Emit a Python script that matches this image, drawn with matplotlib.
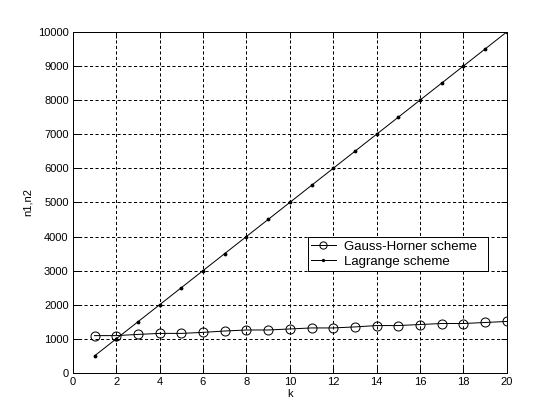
import matplotlib
matplotlib.use("Agg")
import matplotlib.pyplot as plt
import numpy as np

k = np.arange(1, 21)
gauss_horner = [1095, 1095, 1130, 1160, 1160, 1190, 1230, 1260, 1260, 1290,
                1320, 1320, 1350, 1390, 1390, 1420, 1450, 1450, 1480, 1510]
lagrange = [500, 1000, 1500, 2000, 2500, 3000, 3500, 4000, 4500, 5000,
            5500, 6000, 6500, 7000, 7500, 8000, 8500, 9000, 9500, 10000]

plt.rcParams["font.family"] = ["Liberation Sans", "DejaVu Sans"]
plt.rcParams["font.size"] = 8

fig = plt.figure(figsize=(5.6, 4.2), dpi=100)
ax = fig.add_axes([0.13, 0.112, 0.775, 0.812])

ax.plot(k, gauss_horner, color="k", lw=0.72, marker="o", ms=6.5,
        mfc="none", mec="k", mew=0.72, label="Gauss-Horner scheme")
ax.plot(k, lagrange, color="k", lw=0.72, marker=".", ms=3.5,
        label="Lagrange scheme")

ax.set_xlim(0, 20)
ax.set_ylim(0, 10000)
ax.set_xticks(np.arange(0, 21, 2))
ax.set_yticks(np.arange(0, 10001, 1000))
ax.set_xlabel("k", labelpad=1)
ax.set_ylabel("n1,n2", labelpad=4)

ax.grid(True, color="k", ls=(0, (3.1, 2.4)), lw=0.72)
ax.tick_params(direction="in", top=True, right=True, length=4, width=0.72,
               labelsize=8, pad=3)
for s in ax.spines.values():
    s.set_linewidth(0.72)

leg = ax.legend(loc="lower left", bbox_to_anchor=(0.541, 0.299, 0.415, 0.109),
                mode="expand", fancybox=False, framealpha=1, edgecolor="k",
                borderaxespad=0, handlelength=1.9, handletextpad=0.6,
                borderpad=0.25, labelspacing=0.2, fontsize=9.5,
                markerscale=0.8)
leg.get_frame().set_linewidth(0.72)

fig.savefig("out.png", dpi=100)
